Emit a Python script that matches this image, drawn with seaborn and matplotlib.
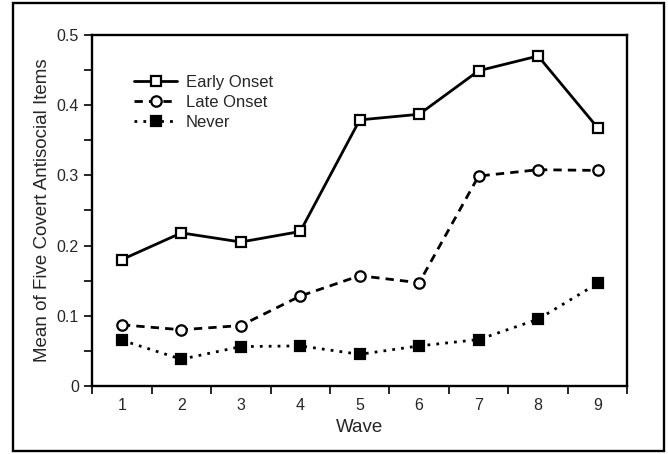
import numpy as np
import pandas as pd
import matplotlib.pyplot as plt
import matplotlib.patches as mpatches
import seaborn as sns

# data
waves = [1, 2, 3, 4, 5, 6, 7, 8, 9]
early_onset = [0.180, 0.218, 0.205, 0.220, 0.379, 0.387, 0.449, 0.470, 0.368]
late_onset = [0.087, 0.080, 0.086, 0.128, 0.157, 0.147, 0.299, 0.308, 0.307]
never = [0.065, 0.038, 0.056, 0.057, 0.045, 0.057, 0.066, 0.095, 0.146]
y_ticks = [0, 0.1, 0.2, 0.3, 0.4, 0.5]
y_tick_labels = ["0", "0.1", "0.2", "0.3", "0.4", "0.5"]

sns.set_style("ticks")
plt.rcParams['font.family'] = ['Liberation Sans', 'DejaVu Sans']

fig = plt.figure(figsize=(6.68, 4.54), dpi=100)
ax = fig.add_axes([0.138, 0.150, 0.801, 0.773])

series = [
    ("Early Onset", early_onset, "s", "-", "white"),
    ("Late Onset", late_onset, "o", (0, (3, 2.2)), "white"),
    ("Never", never, "s", (0, (1, 2.2)), "black"),
]
for name, vals, mk, ls, fc in series:
    sns.lineplot(x=waves, y=vals, ax=ax, color="black", linestyle=ls, linewidth=2.0,
                 marker=mk, markersize=7.5, markerfacecolor=fc, markeredgecolor="black",
                 markeredgewidth=1.6, label=name)

ax.set_xlim(0.5, 9.5)
ax.set_ylim(0, 0.5)
ax.set_xticks(waves)
ax.set_xticks(np.arange(0.5, 10, 1.0), minor=True)
ax.tick_params(axis="x", which="major", length=0, labelsize=11.5, pad=9)
ax.tick_params(axis="x", which="minor", length=6, width=1.4, direction="out")
ax.set_yticks(y_ticks)
ax.set_yticklabels(y_tick_labels)
ax.set_yticks(np.arange(0.05, 0.5, 0.1), minor=True)
ax.tick_params(axis="y", which="both", length=6, width=1.4, direction="out", labelsize=11.5)

for sp in ax.spines.values():
    sp.set_visible(True)
    sp.set_linewidth(1.7)
    sp.set_color("black")

ax.set_xlabel("Wave", fontsize=13.5)
ax.set_ylabel("Mean of Five Covert Antisocial Items", fontsize=13.5)

leg = ax.legend(loc="upper left", bbox_to_anchor=(0.05, 0.93), frameon=False,
                fontsize=12, handlelength=2.6, labelspacing=0.3, handletextpad=0.5)

# outer frame around the whole figure
fig.patches.append(mpatches.Rectangle((0.019, 0.007), 0.975, 0.986, transform=fig.transFigure,
                                      fill=False, edgecolor="black", linewidth=1.7))

fig.savefig("out.png", dpi=100)
